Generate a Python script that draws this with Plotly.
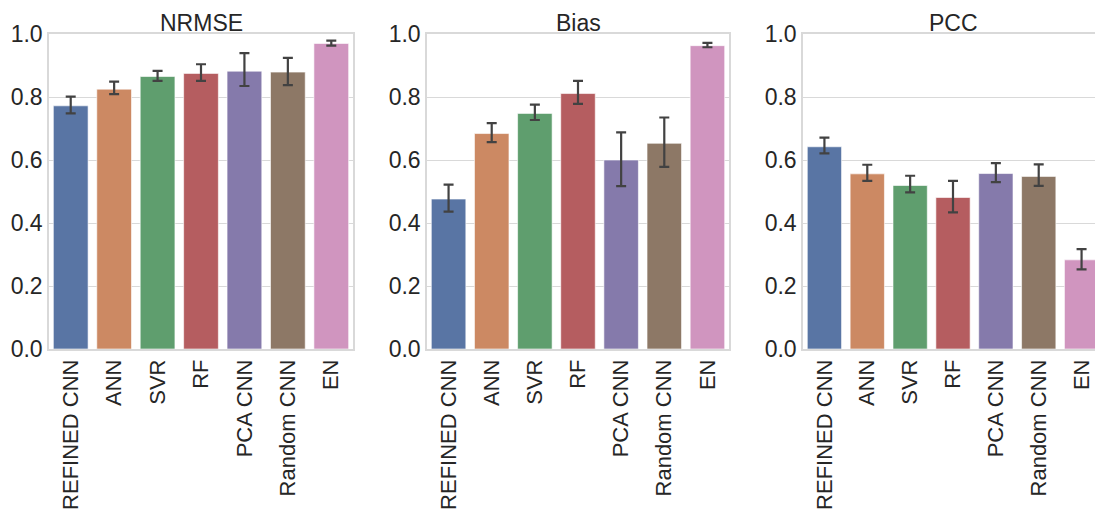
import plotly.graph_objects as go

categories = ["REFINED CNN", "ANN", "SVR", "RF", "PCA CNN", "Random CNN", "EN"]
colors = ["#5975a4", "#cc8963", "#5f9e6e", "#b55d60", "#857aab", "#8d7866", "#d095bf"]

titles = ["NRMSE", "Bias", "PCC"]

nrmse = [0.772, 0.825, 0.865, 0.875, 0.882, 0.879, 0.970]
nrmse_hi = [0.801, 0.849, 0.883, 0.904, 0.939, 0.924, 0.979]
nrmse_lo = [0.748, 0.809, 0.851, 0.851, 0.835, 0.838, 0.963]

bias = [0.476, 0.684, 0.748, 0.811, 0.600, 0.653, 0.963]
bias_hi = [0.522, 0.717, 0.776, 0.851, 0.688, 0.735, 0.972]
bias_lo = [0.436, 0.657, 0.727, 0.778, 0.517, 0.578, 0.958]

pcc = [0.642, 0.556, 0.519, 0.481, 0.557, 0.548, 0.283]
pcc_hi = [0.671, 0.585, 0.550, 0.534, 0.590, 0.586, 0.317]
pcc_lo = [0.621, 0.534, 0.497, 0.434, 0.530, 0.518, 0.253]

series = [(nrmse, nrmse_hi, nrmse_lo), (bias, bias_hi, bias_lo), (pcc, pcc_hi, pcc_lo)]

W, H = 1103, 529
OFF = 8  # page body margin
x_domains = [[(49 - OFF) / W, (353 - OFF) / W], [(427 - OFF) / W, (729 - OFF) / W],
             [(803 - OFF) / W, (1103 - OFF) / W]]
y_domain = [1 - (349 - OFF) / H, 1 - (34 - OFF) / H]

fig = go.Figure()
grid_col = "#d9d9d9"
text_col = "#262626"
FONT = "Liberation Sans, Arial"

for i, (vals, hi, lo) in enumerate(series):
    sfx = "" if i == 0 else str(i + 1)
    fig.add_trace(go.Bar(
        x=categories, y=vals,
        marker=dict(color=colors, line=dict(color="rgba(255,255,255,0.6)", width=1)),
        error_y=dict(type="data", symmetric=False,
                     array=[h - v for h, v in zip(hi, vals)],
                     arrayminus=[v - l for v, l in zip(vals, lo)],
                     color="#424242", thickness=2.2, width=5),
        xaxis="x" + sfx, yaxis="y" + sfx, showlegend=False,
    ))
    fig.update_layout(**{
        "xaxis" + sfx: dict(domain=x_domains[i], anchor="y" + sfx, tickangle=-90,
                           showgrid=False, showline=True, linecolor=grid_col, linewidth=1.5,
                           mirror=True, ticks="", automargin=False,
                           tickfont=dict(family=FONT, size=22, color=text_col)),
        "yaxis" + sfx: dict(domain=y_domain, anchor="x" + sfx, range=[0, 1.0],
                           tickvals=[0, 0.2, 0.4, 0.6, 0.8, 1.0], tickformat=".1f",
                           showgrid=True, gridcolor=grid_col, gridwidth=1.2,
                           showline=True, linecolor=grid_col, linewidth=1.5, mirror=True,
                           zeroline=False, ticks="", automargin=False,
                           tickfont=dict(family=FONT, size=23, color=text_col)),
    })
    fig.add_annotation(text=titles[i], x=(x_domains[i][0] + x_domains[i][1]) / 2,
                       y=y_domain[1], xref="paper", yref="paper",
                       xanchor="center", yanchor="bottom", yshift=-3, showarrow=False,
                       borderpad=0,
                       font=dict(family=FONT, size=23, color=text_col))

fig.update_layout(width=W, height=H, margin=dict(l=0, r=0, t=0, b=0),
                  paper_bgcolor="white", plot_bgcolor="white", bargap=0.2)

fig.write_html("out.html")
